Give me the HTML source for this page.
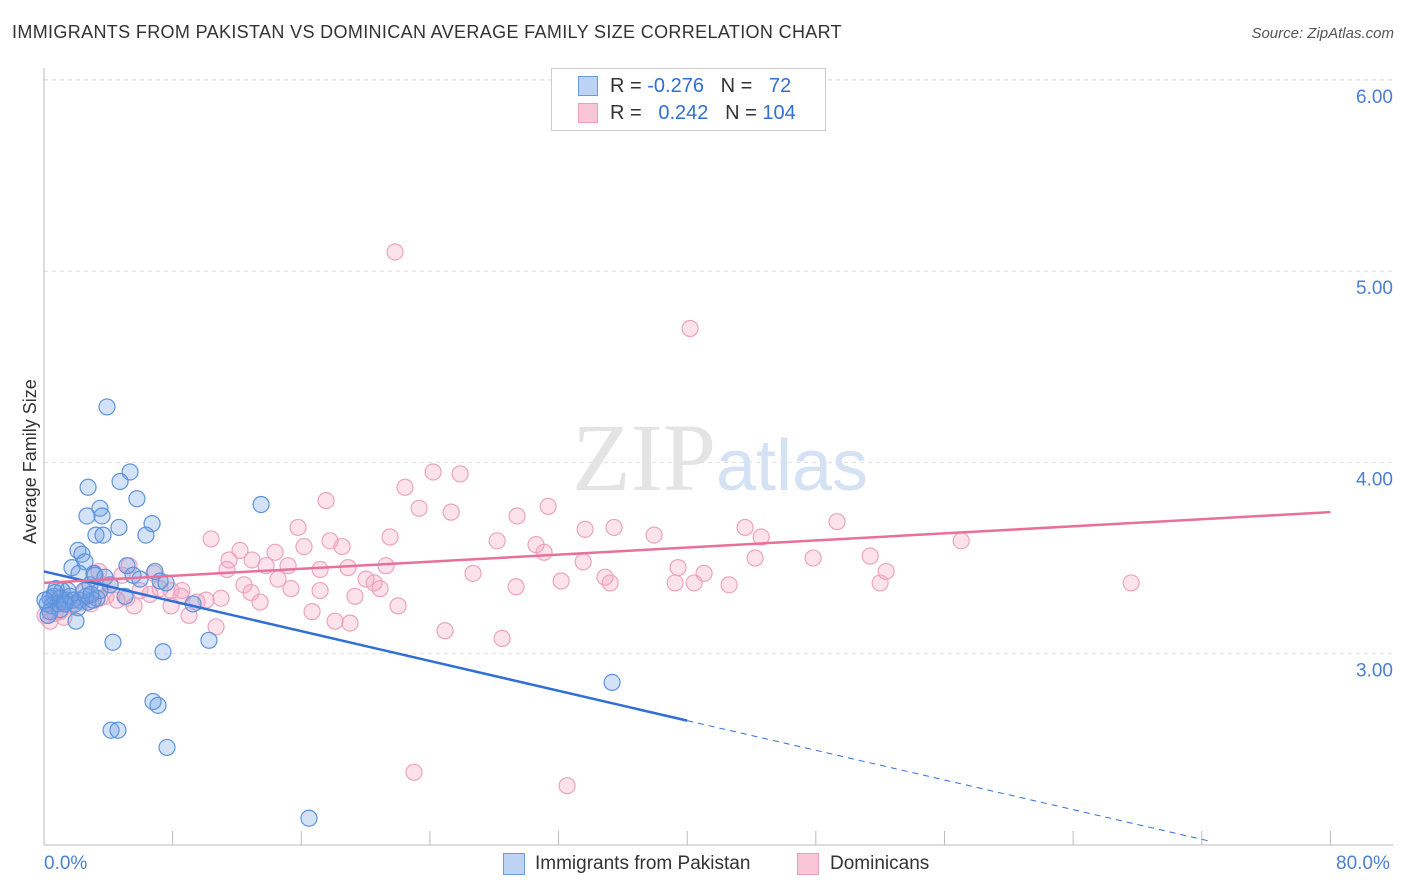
<!DOCTYPE html>
<html><head><meta charset="utf-8">
<style>
body{margin:0;background:#fff;font-family:"Liberation Sans",sans-serif;}
#wrap{position:relative;width:1406px;height:892px;overflow:hidden;}
.t{position:absolute;white-space:nowrap;}
</style></head><body>
<div id="wrap">
<div class="t" style="left:12px;top:22px;font-size:18px;letter-spacing:0.35px;color:#333;">IMMIGRANTS FROM PAKISTAN VS DOMINICAN AVERAGE FAMILY SIZE CORRELATION CHART</div>
<div class="t" style="right:12px;top:25px;font-size:15px;color:#555;font-style:italic;">Source: ZipAtlas.com</div>
<svg id="svg" width="1406" height="892" style="position:absolute;left:0;top:0"></svg>
</div>
<script>
const blueX=[3.92,5.35,2.74,4.73,5.78,3.48,2.67,3.61,4.66,6.72,6.34,3.23,3.67,2.11,2.36,2.55,5.16,6.90,1.74,2.18,3.11,5.54,7.22,7.59,0.75,1.12,1.49,2.86,4.11,5.04,0.37,0.62,1.00,1.37,1.80,2.24,2.74,3.05,3.30,0.19,0.50,0.87,1.24,1.93,0.37,1.99,9.27,4.29,7.40,10.26,13.50,6.78,7.09,4.17,4.60,7.65,35.33,16.48,2.61,1.00,0.25,1.62,2.49,3.48,5.97,3.17,0.68,1.31,2.11,0.06,2.92,3.79];
const blueY=[4.29,3.95,3.87,3.90,3.81,3.76,3.72,3.72,3.66,3.68,3.62,3.62,3.62,3.54,3.52,3.48,3.46,3.43,3.45,3.42,3.42,3.41,3.38,3.37,3.34,3.33,3.33,3.36,3.36,3.30,3.29,3.30,3.29,3.28,3.28,3.28,3.27,3.28,3.29,3.26,3.25,3.26,3.27,3.26,3.22,3.17,3.26,3.06,3.01,3.07,3.78,2.75,2.73,2.60,2.60,2.51,2.85,2.14,3.30,3.23,3.20,3.30,3.33,3.33,3.39,3.41,3.32,3.26,3.24,3.28,3.31,3.40];
const pinkX=[21.83,40.18,24.20,25.88,22.45,17.54,23.33,25.32,31.35,29.42,33.65,35.45,15.80,37.94,43.60,44.60,49.32,57.04,10.39,12.19,14.37,16.17,17.79,18.54,21.52,28.18,30.60,31.10,11.51,12.94,11.38,13.81,15.18,17.17,18.91,21.27,33.53,39.43,44.22,47.83,51.38,52.37,5.29,6.84,3.42,4.85,26.68,34.89,41.05,35.21,20.03,20.53,20.90,32.16,29.36,39.25,40.43,42.61,52.00,67.61,14.55,15.36,17.17,12.44,12.88,7.22,7.90,8.52,10.08,11.01,7.90,9.02,13.44,19.34,22.02,16.67,18.10,19.03,10.70,24.94,28.49,23.01,32.53,1.80,2.36,2.92,3.86,4.54,1.00,1.24,0.37,0.68,5.97,4.11,5.60,6.59,8.58,9.52,1.62,5.16,2.61,3.48,0.06,0.56];
const pinkY=[5.10,4.70,3.95,3.94,3.87,3.80,3.76,3.74,3.77,3.72,3.65,3.66,3.66,3.62,3.66,3.61,3.69,3.59,3.60,3.54,3.53,3.56,3.59,3.56,3.61,3.59,3.57,3.53,3.49,3.49,3.44,3.46,3.46,3.44,3.45,3.46,3.48,3.45,3.50,3.50,3.51,3.43,3.46,3.42,3.43,3.41,3.42,3.40,3.42,3.37,3.39,3.37,3.34,3.38,3.35,3.37,3.37,3.36,3.37,3.37,3.39,3.34,3.33,3.36,3.32,3.34,3.33,3.30,3.28,3.29,3.25,3.20,3.27,3.30,3.25,3.22,3.17,3.16,3.14,3.12,3.08,2.38,2.31,3.28,3.27,3.26,3.30,3.28,3.22,3.19,3.17,3.21,3.33,3.36,3.25,3.31,3.33,3.27,3.25,3.29,3.33,3.29,3.20,3.28];
const blueTrend=[[0,3.43],[40,2.65]];
const blueDash=[[40,2.65],[72.5,2.02]];
const pinkTrend=[[0,3.37],[80,3.74]];
const yTicks=[3,4,5,6];
const yTickLabels=["3.00","4.00","5.00","6.00"];
const xTicks=[0,10,20,30,40,50,60,70,80,90,100];

const svg=document.getElementById('svg');
const NS='http://www.w3.org/2000/svg';
const X=v=>44+v*16.08;
const Y=v=>845-(v-2)*191.3;
function mk(tag,attrs){const e=document.createElementNS(NS,tag);for(const k in attrs)e.setAttribute(k,attrs[k]);svg.appendChild(e);return e;}

yTicks.forEach((t,i)=>{
  const g=mk('line',{x1:44,x2:1393,y1:Y(t),y2:Y(t),stroke:'#ddd','stroke-dasharray':'4,4'});
  
  
  const tx=mk('text',{x:1393,y:Y(t)+23,'text-anchor':'end','font-size':19,fill:'#4a7fd4','font-family':'Liberation Sans, sans-serif'});
  tx.textContent=yTickLabels[i];
  
  
});
const topG=mk('line',{x1:44,x2:1393,y1:80,y2:80,stroke:'#ddd','stroke-dasharray':'4,4'});


const ax=mk('line',{x1:44,x2:44,y1:68,y2:845,stroke:'#bbb'});


const bx=mk('line',{x1:44,x2:1393,y1:845,y2:845,stroke:'#bbb'});


xTicks.forEach(t=>{const l=mk('line',{x1:X(t*0.8),x2:X(t*0.8),y1:831,y2:845,stroke:'#bbb'});
  
  });

const wm=mk('text',{x:720,y:490,'text-anchor':'middle','font-size':96,fill:'#e4e4e4','font-family':'Liberation Serif, serif'});
wm.innerHTML='ZIP<tspan fill="#d4e2f4" font-family="Liberation Sans, sans-serif" font-size="72">atlas</tspan>';



pinkX.forEach((x,i)=>{const c=mk('circle',{cx:X(x),cy:Y(pinkY[i]),r:8,fill:'rgba(244,160,188,0.3)',stroke:'#eea3bd','stroke-width':1.2});
  
  });
blueX.forEach((x,i)=>{const c=mk('circle',{cx:X(x),cy:Y(blueY[i]),r:8,fill:'rgba(110,160,230,0.3)',stroke:'#5d93dc','stroke-width':1.2});
  
  });

const bl=mk('line',{x1:X(blueTrend[0][0]),y1:Y(blueTrend[0][1]),x2:X(blueTrend[1][0]),y2:Y(blueTrend[1][1]),stroke:'#2f6fd6','stroke-width':2.5});


const bd=mk('line',{x1:X(blueDash[0][0]),y1:Y(blueDash[0][1]),x2:X(blueDash[1][0]),y2:Y(blueDash[1][1]),stroke:'#2f6fd6','stroke-width':1,'stroke-dasharray':'6,5'});


const pl=mk('line',{x1:X(pinkTrend[0][0]),y1:Y(pinkTrend[0][1]),x2:X(pinkTrend[1][0]),y2:Y(pinkTrend[1][1]),stroke:'#e8709a','stroke-width':2.5});


</script>
<div class="t" style="left:20px;top:544px;transform:rotate(-90deg);transform-origin:0 0;font-size:18px;color:#333;">Average Family Size</div>
<div class="t" style="left:44px;top:853px;font-size:19px;color:#4a7fd4;">0.0%</div>
<div class="t" style="left:1336px;top:853px;font-size:19px;color:#4a7fd4;">80.0%</div>
<div style="position:absolute;left:551px;top:68px;width:273px;height:61px;border:1px solid #ccc;background:#fff;font-size:20px;">
 <div style="position:absolute;left:26px;top:7px;width:18px;height:18px;background:#bcd3f4;border:1px solid #6a9be0;"></div>
 <div class="t" style="left:58px;top:6px;color:#333;">R = <span style="color:#2f6fd6">-0.276</span>&nbsp;&nbsp;&nbsp;N = &nbsp;&nbsp;<span style="color:#2f6fd6">72</span></div>
 <div style="position:absolute;left:26px;top:34px;width:18px;height:18px;background:#f8c6d6;border:1px solid #eaa0b8;"></div>
 <div class="t" style="left:58px;top:33px;color:#333;">R = &nbsp;&nbsp;<span style="color:#2f6fd6">0.242</span>&nbsp;&nbsp;&nbsp;N = <span style="color:#2f6fd6">104</span></div>
</div>
<div style="position:absolute;left:503px;top:853px;width:20px;height:20px;background:#bcd3f4;border:1px solid #6a9be0;"></div>
<div class="t" style="left:535px;top:853px;font-size:19px;color:#333;">Immigrants from Pakistan</div>
<div style="position:absolute;left:797px;top:853px;width:20px;height:20px;background:#f8c6d6;border:1px solid #eaa0b8;"></div>
<div class="t" style="left:830px;top:853px;font-size:19px;color:#333;">Dominicans</div>
</body></html>
